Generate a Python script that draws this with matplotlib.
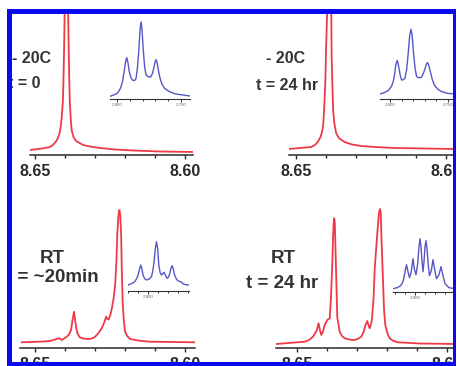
import matplotlib
matplotlib.use("Agg")
import matplotlib.pyplot as plt
from matplotlib.patches import Rectangle
from matplotlib.ticker import MultipleLocator, FormatStrFormatter

plt.rcParams["font.family"] = ["Liberation Sans", "DejaVu Sans"]

W, H = 457, 366          # output size in pixels

# ---- data: chemical shift (ppm) and intensity (arbitrary units) ----
# -20C, t = 0
tl_ppm = [8.6517, 8.6477, 8.6450, 8.6437, 8.6427, 8.6420, 8.6415, 8.6411, 8.6407,
          8.6405, 8.6403, 8.6401, 8.6396, 8.6390, 8.6388, 8.6386, 8.6384, 8.6381,
          8.6378, 8.6372, 8.6363, 8.6340, 8.6317, 8.6283, 8.6233, 8.6173, 8.6083,
          8.5973]
tl_int = [5, 6.5, 8, 11, 15, 20, 27, 38, 55, 80, 110, 150, 240, 150, 110, 75, 52,
          36, 25, 18, 14, 10, 8.5, 7, 5.5, 4.5, 3.5, 3]
tl_in_ppm = [2.8055, 2.8023, 2.8002, 2.7984, 2.7971, 2.7957, 2.7945, 2.7934, 2.7924,
             2.7915, 2.7904, 2.7891, 2.7877, 2.7863, 2.7852, 2.7840, 2.7830, 2.7820,
             2.7812, 2.7805, 2.7795, 2.7784, 2.7773, 2.7754, 2.7737, 2.7723, 2.7711,
             2.7703, 2.7695, 2.7686, 2.7677, 2.7664, 2.7651, 2.7629, 2.7599, 2.7555,
             2.7508, 2.7430]
tl_in_int = [3, 4.5, 5.7, 8.5, 11.7, 18, 27.3, 37, 41.7, 37, 27.3, 21.5, 19, 18.8,
             20.7, 32, 49, 70, 77.3, 70, 49, 32, 24, 22.5, 22.3, 26, 32.3, 37.5, 39.7,
             36, 29, 21, 15.7, 11, 8.3, 5.8, 4.7, 3.3]

# -20C, t = 24 hr
tr_ppm = [8.6523, 8.6487, 8.6449, 8.6437, 8.6427, 8.6418, 8.6413, 8.6409, 8.6406,
          8.6402, 8.6399, 8.6396, 8.6389, 8.6382, 8.6381, 8.6378, 8.6376, 8.6372,
          8.6366, 8.6357, 8.6338, 8.6313, 8.6282, 8.6237, 8.6171, 8.6070, 8.5970]
tr_int = [6, 7, 8, 10, 13, 18, 23, 30, 45, 72, 110, 141, 240, 141, 100, 65, 45, 32,
          22, 17, 13, 10.5, 9, 8, 7, 6.5, 6]
tr_in_ppm = [2.8086, 2.8049, 2.8015, 2.7989, 2.7972, 2.7960, 2.7952, 2.7944, 2.7937,
             2.7930, 2.7920, 2.7910, 2.7900, 2.7886, 2.7871, 2.7856, 2.7843, 2.7830,
             2.7819, 2.7809, 2.7797, 2.7784, 2.7771, 2.7750, 2.7728, 2.7709, 2.7693,
             2.7685, 2.7676, 2.7666, 2.7653, 2.7636, 2.7618, 2.7588, 2.7555, 2.7506,
             2.7440]
tr_in_int = [5.3, 6.8, 8.7, 12.5, 17.7, 25, 32.7, 37, 38.7, 36, 29.3, 23, 19.3, 19.5,
             21, 30, 46, 64, 70, 64, 46, 31, 22.7, 21.5, 22, 27, 32.7, 35.5, 36.7, 34,
             27.7, 20, 14.3, 10, 7.7, 6, 5.3]

# RT, t = ~20 min
bl_ppm = [8.6544, 8.6483, 8.6450, 8.6433, 8.6422, 8.6417, 8.6411, 8.6403, 8.6394,
          8.6387, 8.6380, 8.6375, 8.6370, 8.6366, 8.6362, 8.6357, 8.6350, 8.6337,
          8.6317, 8.6303, 8.6294, 8.6285, 8.6278, 8.6270, 8.6263, 8.6259, 8.6255,
          8.6249, 8.6244, 8.6238, 8.6233, 8.6229, 8.6226, 8.6222, 8.6219, 8.6216,
          8.6213, 8.6211, 8.6208, 8.6204, 8.6200, 8.6193, 8.6183, 8.6150, 8.6117,
          8.5967]
bl_int = [5.7, 6.3, 7, 8.5, 9.7, 9.5, 8, 9.5, 11.3, 13.5, 18, 28, 36.3, 27, 19, 13.5,
          10.5, 9.3, 9, 10.5, 13, 16.5, 19.7, 25, 31.3, 29, 28.5, 33, 39.7, 50, 63, 85,
          113, 133, 138, 133, 113, 80, 46.3, 27, 16.3, 12, 9, 7.2, 6.3, 5.7]
bl_in_ppm = [2.8200, 2.8163, 2.8133, 2.8113, 2.8100, 2.8085, 2.8073, 2.8061, 2.8050,
             2.8035, 2.8016, 2.7988, 2.7966, 2.7953, 2.7940, 2.7928, 2.7916, 2.7904,
             2.7893, 2.7880, 2.7866, 2.7853, 2.7840, 2.7826, 2.7810, 2.7796, 2.7783,
             2.7771, 2.7760, 2.7748, 2.7736, 2.7718, 2.7700, 2.7673, 2.7643, 2.7600]
bl_in_int = [6, 7.5, 9.3, 12.5, 16, 22, 26, 22, 16, 12.5, 11, 12, 14.3, 20, 29.3, 42,
             49.3, 42, 26, 18.5, 16, 17.5, 18.7, 15.5, 12.7, 14, 17.7, 23, 25.3, 22,
             16, 12, 10, 9.3, 6.7, 6]

# RT, t = 24 hr
br_ppm = [8.6569, 8.6507, 8.6474, 8.6460, 8.6447, 8.6435, 8.6428, 8.6423, 8.6419,
          8.6413, 8.6408, 8.6399, 8.6391, 8.6387, 8.6383, 8.6380, 8.6378, 8.6376,
          8.6374, 8.6371, 8.6368, 8.6366, 8.6358, 8.6350, 8.6341, 8.6323, 8.6308,
          8.6295, 8.6286, 8.6278, 8.6272, 8.6266, 8.6262, 8.6258, 8.6253, 8.6250,
          8.6245, 8.6241, 8.6233, 8.6227, 8.6224, 8.6221, 8.6219, 8.6213, 8.6210,
          8.6206, 8.6198, 8.6191, 8.6180, 8.6163, 8.6090, 8.5974]
br_int = [4, 5.5, 6.3, 8, 11.3, 17, 24.7, 17, 13, 17, 23, 28, 29.7, 50, 79.7, 110,
          125, 129.7, 125, 90, 55, 31, 16.3, 12, 9.7, 8.3, 8, 9.5, 11.3, 16, 23, 27,
          23, 19.7, 24, 29.7, 50, 79.7, 113, 135, 139, 135, 113, 63, 38, 23, 14, 9.7,
          7.2, 5.7, 4.5, 4]
br_in_ppm = [2.8220, 2.8180, 2.8150, 2.8130, 2.8115, 2.8100, 2.8085, 2.8070, 2.8055,
             2.8037, 2.8020, 2.8005, 2.7990, 2.7973, 2.7960, 2.7950, 2.7940, 2.7930,
             2.7920, 2.7910, 2.7900, 2.7890, 2.7880, 2.7868, 2.7855, 2.7837, 2.7820,
             2.7803, 2.7785, 2.7760, 2.7740, 2.7720, 2.7700, 2.7660, 2.7600]
br_in_int = [3, 4, 5.5, 8, 12, 20, 27, 20, 14, 20, 33, 22, 17, 28, 45, 53, 45, 30, 20,
             30, 45, 51, 43, 27, 16, 21, 32, 22, 13, 17, 25, 16, 8, 4, 3]

labels = [("- 20C", "t = 0"), ("- 20C", "t = 24 hr"),
          ("RT", "t = ~20min"), ("RT", "t = 24 hr")]

RED = "#ef3a46"
BLUE = "#5656c8"
DARK = "#2a2a2a"


def add_axes_px(fig, x0, x1, y_axis, y_top, xlim):
    """Axes whose bottom spine sits at pixel row y_axis, spanning x0..x1."""
    ax = fig.add_axes([x0 / W, 1 - y_axis / H, (x1 - x0) / W, (y_axis - y_top) / H])
    ax.set_xlim(*xlim)
    ax.set_ylim(0, y_axis - y_top)
    ax.patch.set_alpha(0)
    for s in ("top", "left", "right"):
        ax.spines[s].set_visible(False)
    ax.set_yticks([])
    return ax


def main_panel(fig, box, xlim, ppm, inten):
    ax = add_axes_px(fig, *box, xlim)
    ax.plot(ppm, inten, color=RED, lw=1.3, solid_joinstyle="round")
    ax.spines["bottom"].set_linewidth(1.1)
    ax.spines["bottom"].set_color(DARK)
    ax.xaxis.set_major_locator(MultipleLocator(0.05))
    ax.xaxis.set_minor_locator(MultipleLocator(0.01))
    ax.xaxis.set_major_formatter(FormatStrFormatter("%.2f"))
    ax.tick_params(axis="x", which="major", length=3.2, width=1.0, color=DARK,
                   pad=3, labelsize=11.5, labelcolor=DARK)
    ax.tick_params(axis="x", which="minor", length=2.4, width=1.0, color=DARK)
    for t in ax.get_xticklabels():
        t.set_fontweight("bold")
    return ax


def inset_panel(fig, box, xlim, ppm, inten):
    ax = add_axes_px(fig, *box, xlim)
    ax.plot(ppm, inten, color=BLUE, lw=1.0, solid_joinstyle="round")
    ax.spines["bottom"].set_linewidth(0.8)
    ax.spines["bottom"].set_color("#333333")
    ax.xaxis.set_major_locator(MultipleLocator(0.05))
    ax.xaxis.set_minor_locator(MultipleLocator(0.01))
    ax.xaxis.set_major_formatter(FormatStrFormatter("%.3f"))
    ax.tick_params(axis="x", which="major", length=2.0, width=0.7, color="#333333",
                   pad=1, labelsize=3.2, labelcolor="#666666")
    ax.tick_params(axis="x", which="minor", length=1.5, width=0.7, color="#333333")
    return ax


fig = plt.figure(figsize=(W / 100, H / 100), dpi=100)

main_panel(fig, (30, 193, 155, 0), (8.6517, 8.5973), tl_ppm, tl_int)
main_panel(fig, (289, 460, 155, 0), (8.6523, 8.5953), tr_ppm, tr_int)
main_panel(fig, (20, 195, 348, 190), (8.6550, 8.5967), bl_ppm, bl_int)
main_panel(fig, (276, 460, 348, 190), (8.6570, 8.5957), br_ppm, br_int)

inset_panel(fig, (110, 190, 99.3, 15), (2.8055, 2.7430), tl_in_ppm, tl_in_int)
inset_panel(fig, (380, 460, 99.3, 15), (2.8086, 2.7397), tr_in_ppm, tr_in_int)
inset_panel(fig, (128, 188.5, 291, 220), (2.8200, 2.7597), bl_in_ppm, bl_in_int)
inset_panel(fig, (393, 460, 291.7, 220), (2.8220, 2.7550), br_in_ppm, br_in_int)

# condition labels: (x centre, baseline row) in pixels
label_pos = [((32, 63), (24.5, 88), 11.5),
             ((285.5, 63), (287, 89.5), 11.5),
             ((52.5, 263), (52.5, 282), 13.5),
             ((283, 263), (282, 288.5), 13.5)]
for (top, bottom), ((x1, y1), (x2, y2), size) in zip(labels, label_pos):
    fig.text(x1 / W, 1 - y1 / H, top, ha="center", va="baseline",
             fontsize=size, fontweight="bold", color="#333333")
    fig.text(x2 / W, 1 - y2 / H, bottom, ha="center", va="baseline",
             fontsize=size, fontweight="bold", color="#333333")

# white margin outside the frame, then the blue frame on top
for x, y, w, h in [(0, 0, 7, H), (0, 0, W, 9), (456, 0, 1, H)]:
    fig.add_artist(Rectangle((x / W, 1 - (y + h) / H), w / W, h / H,
                             transform=fig.transFigure, color="white", zorder=20))
for x, y, w, h in [(7, 9, 5, 357), (7, 9, 449, 5), (453, 9, 3, 357), (7, 362, 449, 4)]:
    fig.add_artist(Rectangle((x / W, 1 - (y + h) / H), w / W, h / H,
                             transform=fig.transFigure, color="#0a0af2", lw=0, zorder=21))

fig.savefig("out.png", dpi=100)
